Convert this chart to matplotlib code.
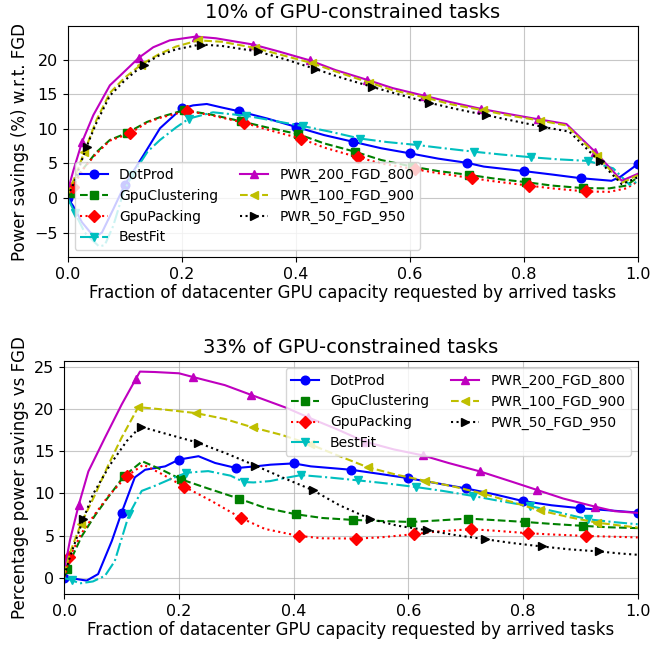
import numpy as np
import matplotlib
matplotlib.use("Agg")
import matplotlib.pyplot as plt

series_names = ["DotProd", "GpuClustering", "GpuPacking", "BestFit",
                "PWR_200_FGD_800", "PWR_100_FGD_900", "PWR_50_FGD_950"]

# ---------------- Top panel: 10% of GPU-constrained tasks ----------------
top_title = "10% of GPU-constrained tasks"
top_ylabel = "Power savings (%) w.r.t. FGD"
xlabel = "Fraction of datacenter GPU capacity requested by arrived tasks"

top_dotprod_x = [0, 0.01, 0.025, 0.04, 0.05, 0.06, 0.08, 0.1, 0.133, 0.162, 0.2, 0.22, 0.244, 0.27, 0.3,
                 0.35, 0.4, 0.45, 0.5, 0.55, 0.6, 0.65, 0.7, 0.73, 0.8, 0.85, 0.9, 0.954, 0.97, 1.0]
top_dotprod_y = [0, -1.2, -3.5, -5.0, -5.5, -5.0, -1.6, 1.9, 6.2, 10.1, 12.95, 13.4, 13.6, 13.1, 12.56,
                 11.5, 10.3, 9.1, 8.15, 7.2, 6.47, 5.7, 5.1, 4.55, 3.9, 3.4, 2.87, 2.5, 3.1, 4.9]

top_clust_x = [0, 0.004, 0.02, 0.05, 0.074, 0.104, 0.139, 0.162, 0.204, 0.25, 0.304, 0.35, 0.404, 0.45,
               0.504, 0.55, 0.604, 0.65, 0.704, 0.75, 0.804, 0.85, 0.904, 0.95, 0.98, 1.0]
top_clust_y = [0, 0.7, 3.5, 6.6, 8.4, 9.4, 11.0, 11.7, 12.7, 12.1, 11.1, 10.2, 9.25, 7.9,
               6.7, 5.5, 4.55, 3.9, 3.35, 2.8, 2.3, 1.8, 1.44, 1.4, 1.8, 3.0]

top_pack_x = [0, 0.009, 0.03, 0.05, 0.074, 0.109, 0.139, 0.162, 0.209, 0.25, 0.309, 0.35, 0.409, 0.45,
              0.509, 0.55, 0.609, 0.65, 0.709, 0.75, 0.809, 0.85, 0.909, 0.95, 0.98, 1.0]
top_pack_y = [0, 1.67, 4.5, 6.4, 8.3, 9.35, 10.9, 11.6, 12.6, 12.0, 10.9, 9.9, 8.6, 7.3,
              5.9, 5.0, 4.17, 3.6, 2.88, 2.4, 1.8, 1.4, 0.95, 0.9, 1.4, 2.4]

top_best_x = [0, 0.013, 0.03, 0.055, 0.065, 0.08, 0.098, 0.113, 0.121, 0.14, 0.162, 0.19, 0.213, 0.255,
              0.313, 0.36, 0.413, 0.46, 0.513, 0.56, 0.613, 0.66, 0.713, 0.76, 0.813, 0.86, 0.913,
              0.957, 0.986, 1.0]
top_best_y = [0, -2.2, -5.0, -7.0, -6.8, -4.0, 0.9, 3.3, 4.3, 6.7, 8.4, 10.2, 11.5, 12.4,
              11.9, 11.2, 10.4, 9.6, 8.6, 8.1, 7.67, 7.2, 6.7, 6.3, 5.9, 5.6, 5.37,
              4.3, 1.9, 2.4]

top_p200_x = [0, 0.01, 0.025, 0.045, 0.074, 0.092, 0.125, 0.15, 0.179, 0.225, 0.26, 0.325, 0.37, 0.425,
              0.47, 0.525, 0.57, 0.625, 0.67, 0.725, 0.77, 0.825, 0.875, 0.925, 0.972, 1.0]
top_p200_y = [1.0, 4.0, 8.06, 12.0, 16.3, 17.7, 20.3, 21.8, 22.8, 23.35, 23.1, 22.2, 21.2, 19.9,
              18.5, 17.1, 15.9, 14.8, 13.9, 12.9, 12.2, 11.4, 10.7, 6.7, 2.5, 3.5]

top_p100_x = [0, 0.01, 0.029, 0.05, 0.074, 0.1, 0.129, 0.16, 0.19, 0.229, 0.27, 0.329, 0.37, 0.429,
              0.47, 0.529, 0.57, 0.629, 0.67, 0.729, 0.77, 0.829, 0.875, 0.929, 0.972, 1.0]
top_p100_y = [0.5, 2.5, 6.6, 11.2, 15.2, 17.4, 19.3, 20.8, 21.9, 22.8, 22.6, 21.7, 20.8, 19.5,
              18.3, 16.7, 15.6, 14.5, 13.6, 12.7, 12.0, 11.2, 10.5, 6.1, 2.2, 3.3]

top_p50_x = [0, 0.01, 0.033, 0.05, 0.074, 0.1, 0.133, 0.16, 0.19, 0.233, 0.27, 0.333, 0.38, 0.433,
             0.48, 0.533, 0.58, 0.633, 0.68, 0.733, 0.78, 0.833, 0.88, 0.933, 0.972, 1.0]
top_p50_y = [0.3, 2.0, 7.4, 10.8, 14.8, 17.0, 19.3, 20.6, 21.5, 22.2, 22.0, 21.2, 20.1, 18.7,
             17.4, 16.1, 15.0, 13.8, 12.9, 12.0, 11.2, 10.3, 9.6, 5.3, 2.0, 3.0]

# ---------------- Bottom panel: 33% of GPU-constrained tasks ----------------
bot_title = "33% of GPU-constrained tasks"
bot_ylabel = "Percentage power savings vs FGD"

bot_dotprod_x = [0, 0.02, 0.039, 0.059, 0.083, 0.1, 0.123, 0.141, 0.176, 0.2, 0.234, 0.263, 0.3, 0.333,
                 0.36, 0.4, 0.43, 0.5, 0.556, 0.6, 0.65, 0.7, 0.75, 0.8, 0.85, 0.9, 0.95, 1.0]
bot_dotprod_y = [0, -0.1, -0.3, 0.47, 4.4, 7.74, 11.9, 12.8, 13.2, 14.0, 14.4, 13.6, 13.0, 13.2,
                 13.4, 13.55, 13.2, 12.8, 12.25, 11.8, 11.2, 10.6, 9.9, 9.1, 8.6, 8.25, 8.0, 7.74]

bot_clust_x = [0, 0.004, 0.03, 0.054, 0.077, 0.104, 0.136, 0.17, 0.204, 0.25, 0.304, 0.35, 0.404, 0.45,
               0.504, 0.55, 0.604, 0.65, 0.704, 0.75, 0.804, 0.85, 0.904, 0.95, 1.0]
bot_clust_y = [0, 1.06, 4.9, 7.45, 9.6, 12.05, 13.8, 12.8, 11.66, 10.6, 9.4, 8.3, 7.54, 7.1,
               6.87, 6.75, 6.63, 6.8, 7.03, 6.85, 6.63, 6.4, 6.17, 6.0, 5.9]

bot_pack_x = [0, 0.009, 0.03, 0.054, 0.077, 0.109, 0.138, 0.17, 0.209, 0.257, 0.309, 0.35, 0.409, 0.45,
              0.509, 0.55, 0.609, 0.65, 0.709, 0.75, 0.809, 0.85, 0.909, 0.95, 1.0]
bot_pack_y = [0, 2.43, 5.3, 7.6, 9.7, 12.05, 13.4, 12.3, 10.8, 9.1, 7.07, 5.8, 4.98, 4.7,
              4.67, 4.8, 5.18, 5.5, 5.77, 5.6, 5.3, 5.15, 4.98, 4.9, 4.8]

bot_best_x = [0, 0.013, 0.027, 0.05, 0.071, 0.088, 0.113, 0.135, 0.158, 0.184, 0.213, 0.251, 0.29,
              0.313, 0.33, 0.359, 0.388, 0.413, 0.46, 0.513, 0.56, 0.613, 0.66, 0.713, 0.76, 0.813,
              0.86, 0.913, 0.96, 1.0]
bot_best_y = [0, -0.24, -0.63, -0.4, 0.27, 2.0, 7.54, 10.3, 10.9, 11.66, 12.45, 12.64, 12.1,
              11.35, 11.3, 11.46, 11.86, 12.17, 11.9, 11.54, 11.2, 10.76, 10.3, 9.7, 9.1, 8.5,
              7.8, 6.95, 6.6, 6.36]

bot_p200_x = [0, 0.01, 0.025, 0.042, 0.071, 0.1, 0.125, 0.132, 0.158, 0.2, 0.225, 0.28, 0.325, 0.388,
              0.425, 0.475, 0.525, 0.575, 0.625, 0.67, 0.725, 0.78, 0.825, 0.87, 0.925, 0.96, 1.0]
bot_p200_y = [0.9, 4.5, 8.6, 12.6, 16.6, 20.5, 23.56, 24.4, 24.35, 24.2, 23.75, 22.8, 21.67, 20.1,
              19.0, 17.6, 16.1, 15.2, 14.5, 13.6, 12.6, 11.4, 10.4, 9.4, 8.45, 7.9, 7.7]

bot_p100_x = [0, 0.01, 0.029, 0.054, 0.077, 0.1, 0.129, 0.176, 0.229, 0.28, 0.329, 0.38, 0.429,
              0.48, 0.529, 0.58, 0.629, 0.68, 0.729, 0.78, 0.829, 0.88, 0.929, 0.97, 1.0]
bot_p100_y = [0.5, 3.0, 6.4, 9.9, 13.4, 16.6, 20.2, 19.9, 19.5, 18.8, 17.8, 16.9, 15.8,
              14.4, 13.1, 12.2, 11.5, 10.8, 10.0, 9.0, 8.0, 7.2, 6.55, 6.2, 5.97]

bot_p50_x = [0, 0.01, 0.033, 0.05, 0.08, 0.109, 0.133, 0.18, 0.233, 0.28, 0.333, 0.38, 0.433,
             0.48, 0.533, 0.58, 0.633, 0.68, 0.733, 0.78, 0.833, 0.88, 0.933, 0.97, 1.0]
bot_p50_y = [0.3, 2.5, 6.95, 9.9, 13.4, 16.2, 17.9, 17.0, 16.0, 14.8, 13.3, 11.9, 10.4,
             8.6, 7.0, 6.2, 5.65, 5.1, 4.6, 4.15, 3.73, 3.4, 3.14, 2.9, 2.75]

x_ticks = [0.0, 0.2, 0.4, 0.6, 0.8, 1.0]
top_yticks = [-5, 0, 5, 10, 15, 20]
bot_yticks = [0, 5, 10, 15, 20, 25]

# styles: (fmt, marker, marker offset along x)
styles = [("b-", "o", 0.0), ("g--", "s", 0.004), ("r:", "D", 0.009), ("c-.", "v", 0.013),
          ("m-", "^", 0.025), ("y--", "<", 0.029), ("k:", ">", 0.033)]


def marker_idx(xs, off):
    idx = []
    for i, v in enumerate(xs):
        k = (v - off) * 10
        if v >= off - 1e-9 and abs(k - round(k)) < 1e-6:
            idx.append(i)
    return idx


def draw(ax, data, title, ylabel, yticks, legend_loc):
    for name, (xs, ys), (fmt, mk, off) in zip(series_names, data, styles):
        ax.plot(xs, ys, fmt, marker=mk, markersize=6.2, linewidth=1.5,
                markevery=marker_idx(xs, off), label=name)
    ax.set_xlim(0, 1.0)
    ax.set_xticks(x_ticks)
    ax.set_yticks(yticks)
    ax.grid(True, color="#b0b0b0", linewidth=0.8, alpha=0.7)
    ax.set_title(title, fontsize=14)
    ax.set_ylabel(ylabel, fontsize=12)
    ax.set_xlabel(xlabel, fontsize=12, labelpad=2)
    ax.tick_params(labelsize=11.5)
    ax.legend(loc=legend_loc, ncol=2, fontsize=10, handlelength=2.0,
              borderaxespad=0.5, columnspacing=1.6)


fig = plt.figure(figsize=(6.71, 6.45), dpi=100)
ax1 = fig.add_axes([0.1009, 0.6016, 0.8495, 0.358])
ax2 = fig.add_axes([0.0958, 0.0791, 0.8546, 0.3612])

top_data = [(top_dotprod_x, top_dotprod_y), (top_clust_x, top_clust_y), (top_pack_x, top_pack_y),
            (top_best_x, top_best_y), (top_p200_x, top_p200_y), (top_p100_x, top_p100_y),
            (top_p50_x, top_p50_y)]
bot_data = [(bot_dotprod_x, bot_dotprod_y), (bot_clust_x, bot_clust_y), (bot_pack_x, bot_pack_y),
            (bot_best_x, bot_best_y), (bot_p200_x, bot_p200_y), (bot_p100_x, bot_p100_y),
            (bot_p50_x, bot_p50_y)]

draw(ax1, top_data, top_title, top_ylabel, top_yticks, "lower left")
draw(ax2, bot_data, bot_title, bot_ylabel, bot_yticks, "upper right")

fig.savefig("out.png", dpi=100)
